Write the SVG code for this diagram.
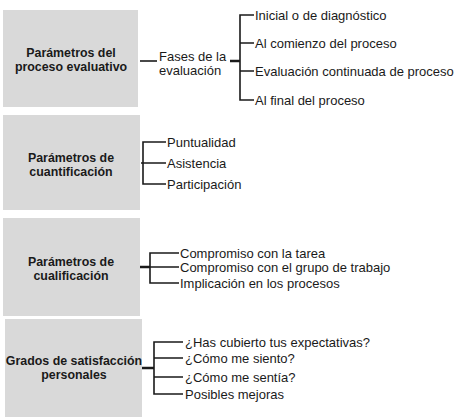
<svg xmlns="http://www.w3.org/2000/svg" width="460" height="417" viewBox="0 0 460 417">
<style>
.box{fill:#d9d9d9;}
.t{font-family:"Liberation Sans",Arial,sans-serif;font-size:13px;fill:#1a1a1a;}
.b{font-family:"Liberation Sans",Arial,sans-serif;font-size:12.4px;font-weight:bold;fill:#1a1a1a;text-anchor:middle;}
.c{fill:none;stroke:#1a1a1a;stroke-width:1.6;}
.s{fill:none;stroke:#1a1a1a;stroke-width:2.5;}
</style>
<rect width="460" height="417" fill="#ffffff"/>
<g id="n1">
<rect class="box" x="3" y="10" width="135" height="97"/>
<text class="b" x="71" y="57">Parámetros del</text>
<text class="b" x="71" y="71">proceso evaluativo</text>
</g>
<g id="n1a">
<text class="t" x="159" y="61">Fases de la</text>
<text class="t" x="159" y="75">evaluación</text>
</g>
<g id="n1b"><text class="t" x="255" y="19.5">Inicial o de diagnóstico</text></g>
<g id="n1c"><text class="t" x="255" y="47.5">Al comienzo del proceso</text></g>
<g id="n1d"><text class="t" x="255" y="75.5">Evaluación continuada de proceso</text></g>
<g id="n1e"><text class="t" x="255" y="104.5">Al final del proceso</text></g>
<g id="n2">
<rect class="box" x="3" y="115" width="137" height="95"/>
<text class="b" x="71" y="162">Parámetros de</text>
<text class="b" x="71" y="176">cuantificación</text>
</g>
<g id="n2a"><text class="t" x="167" y="146.5">Puntualidad</text></g>
<g id="n2b"><text class="t" x="167" y="167.5">Asistencia</text></g>
<g id="n2c"><text class="t" x="167" y="188.5">Participación</text></g>
<g id="n3">
<rect class="box" x="3" y="218" width="137" height="98"/>
<text class="b" x="71" y="266">Parámetros de</text>
<text class="b" x="71" y="280">cualificación</text>
</g>
<g id="n3a"><text class="t" x="180" y="257.5">Compromiso con la tarea</text></g>
<g id="n3b"><text class="t" x="180" y="271.5">Compromiso con el grupo de trabajo</text></g>
<g id="n3c"><text class="t" x="180" y="287.5">Implicación en los procesos</text></g>
<g id="n4">
<rect class="box" x="5" y="319" width="137" height="98"/>
<text class="b" x="74" y="365">Grados de satisfacción</text>
<text class="b" x="74" y="379">personales</text>
</g>
<g id="n4a"><text class="t" x="185" y="346.5">¿Has cubierto tus expectativas?</text></g>
<g id="n4b"><text class="t" x="185" y="362.5">¿Cómo me siento?</text></g>
<g id="n4c"><text class="t" x="185" y="381.5">¿Cómo me sentía?</text></g>
<g id="n4d"><text class="t" x="185" y="398.5">Posibles mejoras</text></g>
<g id="connectors">
<path class="c" d="M140 61H157"/>
<path class="s" d="M230 61H240"/>
<path class="c" d="M254 15H240V100H254M240 43H254M240 71H254"/>
<path class="c" d="M141 163H143"/>
<path class="c" d="M166 142H143V184H166M143 163H166"/>
<path class="s" d="M140 267H150"/>
<path class="c" d="M179 253H150V283H179M150 267H179"/>
<path class="s" d="M142 368H154"/>
<path class="c" d="M183 342H154V394H183M154 358H183M154 377H183"/>
</g>
</svg>
